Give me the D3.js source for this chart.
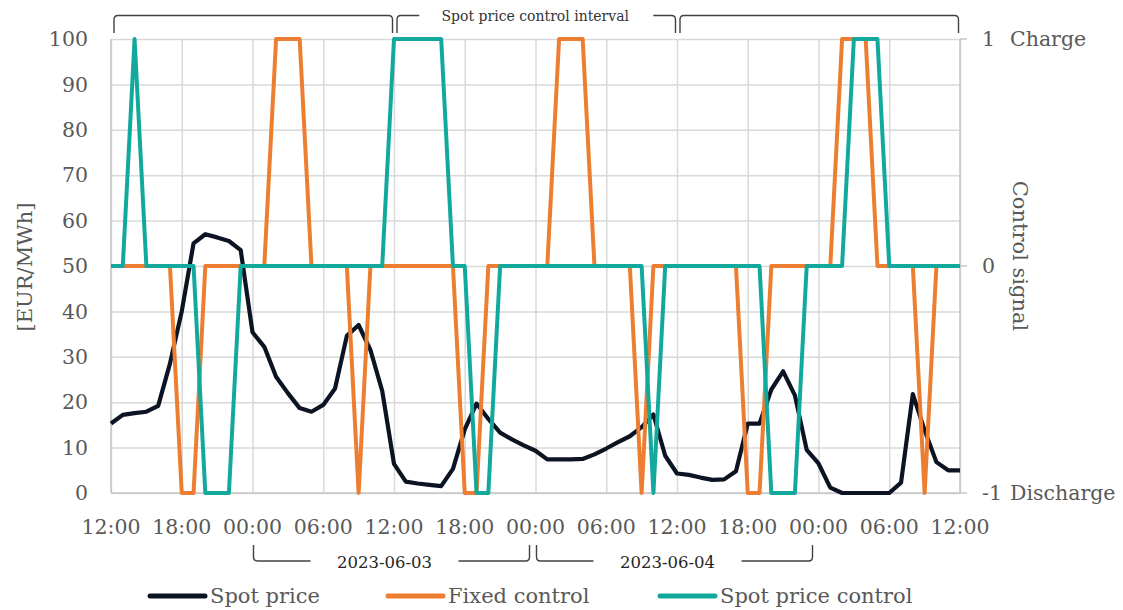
<!DOCTYPE html>
<html>
<head>
<meta charset="utf-8">
<title>spot price control</title>
<style>
  body { margin: 0; background: #fff; }
  text { font-family: "DejaVu Serif", "Liberation Serif", serif; }
</style>
</head>
<body>
<svg id="chart"></svg>
<script src="https://cdn.jsdelivr.net/npm/d3@7/dist/d3.min.js"></script>
<script>
// hourly values from 2023-06-02 12:00 to 2023-06-05 12:00
var startTime = new Date(2023, 5, 2, 12, 0);

var spotPrice = [
  15.3, 17.2, 17.6, 17.9, 19.2, 28.5, 40, 55, 57, 56.3, 55.5, 53.5,
  35.4, 32.2, 25.6, 22, 18.7, 17.9, 19.4, 23, 34.6, 37, 31.5, 22.5,
  6.4, 2.5, 2.1, 1.8, 1.5, 5.3, 14, 19.7, 16.3, 13.3, 11.8, 10.5,
  9.3, 7.4, 7.4, 7.4, 7.5, 8.5, 9.8, 11.2, 12.5, 14.5, 17.3, 8.2,
  4.3, 4, 3.4, 2.9, 3, 4.8, 15.3, 15.3, 22.8, 26.8, 21.5, 9.5,
  6.5, 1.2, 0, 0, 0, 0, 0, 2.3, 21.8, 13.8, 6.8, 5, 5
];

var fixedControl = [
  0, 0, 0, 0, 0, 0, -1, -1, 0, 0, 0, 0,
  0, 0, 1, 1, 1, 0, 0, 0, 0, -1, 0, 0,
  0, 0, 0, 0, 0, 0, -1, -1, 0, 0, 0, 0,
  0, 0, 1, 1, 1, 0, 0, 0, 0, -1, 0, 0,
  0, 0, 0, 0, 0, 0, -1, -1, 0, 0, 0, 0,
  0, 0, 1, 1, 1, 0, 0, 0, 0, -1, 0, 0, 0
];

var spotControl = [
  0, 0, 1, 0, 0, 0, 0, 0, -1, -1, -1, 0,
  0, 0, 0, 0, 0, 0, 0, 0, 0, 0, 0, 0,
  1, 1, 1, 1, 1, 0, 0, -1, -1, 0, 0, 0,
  0, 0, 0, 0, 0, 0, 0, 0, 0, 0, -1, 0,
  0, 0, 0, 0, 0, 0, 0, 0, -1, -1, -1, 0,
  0, 0, 0, 1, 1, 1, 0, 0, 0, 0, 0, 0, 0
];

var seriesNames = ["Spot price", "Fixed control", "Spot price control"];
var seriesColors = ["#0c1424", "#ed7d31", "#13a89c"];

var priceTicks = [0, 10, 20, 30, 40, 50, 60, 70, 80, 90, 100];
var controlTicks = [1, 0, -1];
var controlTickNotes = ["Charge", "", "Discharge"];

// hours from start
var intervalEdges = [0, 24, 48, 72];
var intervalLabel = "Spot price control interval";
var dayEdges = [12, 36, 60];
var dayLabels = ["2023-06-03", "2023-06-04"];

var width = 1123, height = 610;
var plotL = 111, plotR = 960, plotT = 39, plotB = 493;

var svg = d3.select("#chart").attr("width", width).attr("height", height);

function hourTime(h) { return d3.timeHour.offset(startTime, h); }

var x = d3.scaleTime()
  .domain([startTime, hourTime(72)])
  .range([plotL, plotR]);
var y = d3.scaleLinear().domain([0, 100]).range([plotB, plotT]);
var y2 = d3.scaleLinear().domain([-1, 1]).range([plotB, plotT]);

// grid
svg.append("g")
  .attr("transform", "translate(" + plotL + ",0)")
  .call(d3.axisLeft(y).tickValues(priceTicks).tickSize(-(plotR - plotL)).tickFormat(""))
  .call(function(g) { g.select(".domain").remove(); })
  .selectAll("line").attr("stroke", "#d9d9d9").attr("stroke-width", 1.5);

svg.append("g")
  .attr("transform", "translate(0," + plotB + ")")
  .call(d3.axisBottom(x).ticks(d3.timeHour.every(6)).tickSize(-(plotB - plotT)).tickFormat(""))
  .call(function(g) { g.select(".domain").remove(); })
  .selectAll("line").attr("stroke", "#d9d9d9").attr("stroke-width", 1.5);

// axis lines
svg.append("line").attr("x1", plotL).attr("x2", plotL).attr("y1", plotT).attr("y2", plotB)
  .attr("stroke", "#c6c6c6").attr("stroke-width", 1.5);
svg.append("line").attr("x1", plotR).attr("x2", plotR).attr("y1", plotT).attr("y2", plotB)
  .attr("stroke", "#c6c6c6").attr("stroke-width", 1.5);
svg.append("line").attr("x1", plotL).attr("x2", plotR).attr("y1", plotB).attr("y2", plotB)
  .attr("stroke", "#c6c6c6").attr("stroke-width", 1.5);

// left tick labels
svg.append("g").selectAll("text")
  .data(priceTicks).enter().append("text")
  .attr("x", 88).attr("y", function(d) { return y(d); })
  .attr("dy", "0.35em").attr("text-anchor", "end")
  .attr("font-size", 20.5).attr("fill", "#595959")
  .text(function(d) { return d; });

// bottom tick labels
svg.append("g").selectAll("text")
  .data(x.ticks(d3.timeHour.every(6))).enter().append("text")
  .attr("x", function(d) { return x(d); }).attr("y", 527)
  .attr("dy", "0.35em").attr("text-anchor", "middle")
  .attr("font-size", 20.5).attr("fill", "#595959")
  .text(d3.timeFormat("%H:%M"));

// right axis ticks + labels
var rt = svg.append("g").selectAll("g")
  .data(controlTicks).enter().append("g")
  .attr("transform", function(d) { return "translate(0," + y2(d) + ")"; });
rt.append("line").attr("x1", plotR).attr("x2", plotR + 7)
  .attr("stroke", "#c6c6c6").attr("stroke-width", 1.5);
rt.append("text").attr("x", 982).attr("dy", "0.35em")
  .attr("font-size", 20.5).attr("fill", "#595959")
  .text(function(d) { return d; });
rt.append("text").attr("x", 1010).attr("dy", "0.35em")
  .attr("font-size", 20.5).attr("fill", "#595959")
  .text(function(d, i) { return controlTickNotes[i]; });

// axis titles
svg.append("text")
  .attr("transform", "translate(25,267) rotate(-90)")
  .attr("text-anchor", "middle").attr("dy", "0.35em")
  .attr("font-size", 21).attr("fill", "#595959")
  .text("[EUR/MWh]");
svg.append("text")
  .attr("transform", "translate(1020,256) rotate(90)")
  .attr("text-anchor", "middle").attr("dy", "0.35em")
  .attr("font-size", 21).attr("fill", "#595959")
  .text("Control signal");

// series
var priceLine = d3.line()
  .x(function(d, i) { return x(hourTime(i)); })
  .y(function(d) { return y(d); });
var controlLine = d3.line()
  .x(function(d, i) { return x(hourTime(i)); })
  .y(function(d) { return y2(d); });

svg.append("path").datum(spotPrice)
  .attr("d", priceLine).attr("fill", "none")
  .attr("stroke", seriesColors[0]).attr("stroke-width", 4.2)
  .attr("stroke-linejoin", "round");
svg.append("path").datum(fixedControl)
  .attr("d", controlLine).attr("fill", "none")
  .attr("stroke", seriesColors[1]).attr("stroke-width", 4)
  .attr("stroke-linejoin", "round");
svg.append("path").datum(spotControl)
  .attr("d", controlLine).attr("fill", "none")
  .attr("stroke", seriesColors[2]).attr("stroke-width", 4)
  .attr("stroke-linejoin", "round");

// brackets
function bracket(x0, x1, yLine, yEnd, gap, shift) {
  var r = 4, s = yEnd > yLine ? 1 : -1;
  var p = d3.path();
  p.moveTo(x0, yEnd);
  p.lineTo(x0, yLine + s * r);
  p.quadraticCurveTo(x0, yLine, x0 + r, yLine);
  if (gap) {
    var mid = (x0 + x1) / 2 + (shift || 0);
    p.lineTo(mid - gap / 2, yLine);
    p.moveTo(mid + gap / 2, yLine);
  }
  p.lineTo(x1 - r, yLine);
  p.quadraticCurveTo(x1, yLine, x1, yLine + s * r);
  p.lineTo(x1, yEnd);
  return p.toString();
}

for (var k = 0; k < intervalEdges.length - 1; k++) {
  var bx0 = x(hourTime(intervalEdges[k])) + 3;
  var bx1 = x(hourTime(intervalEdges[k + 1])) - 1.5;
  svg.append("path")
    .attr("d", bracket(bx0, bx1, 15.5, 33, k === 1 ? 234 : 0, 0))
    .attr("fill", "none").attr("stroke", "#404040").attr("stroke-width", 1.4);
  if (k === 1) {
    svg.append("text")
      .attr("x", (bx0 + bx1) / 2 - 1).attr("y", 16).attr("dy", "0.35em")
      .attr("text-anchor", "middle").attr("font-size", 14).attr("fill", "#333")
      .text(intervalLabel);
  }
}

for (var d = 0; d < dayLabels.length; d++) {
  var dx0 = x(hourTime(dayEdges[d])) + 1;
  var dx1 = x(hourTime(dayEdges[d + 1])) - 6;
  svg.append("path")
    .attr("d", bracket(dx0, dx1, 561, 545, 148, -7))
    .attr("fill", "none").attr("stroke", "#404040").attr("stroke-width", 1.4);
  svg.append("text")
    .attr("x", (dx0 + dx1) / 2 - 7).attr("y", 562).attr("dy", "0.35em")
    .attr("text-anchor", "middle").attr("font-size", 16.5).attr("fill", "#262626")
    .text(dayLabels[d]);
}

// legend
var legendX = [150, 388, 660];
var lg = svg.append("g").selectAll("g")
  .data(seriesNames).enter().append("g")
  .attr("transform", function(d, i) { return "translate(" + legendX[i] + ",596)"; });
lg.append("line").attr("x1", 0).attr("x2", 55)
  .attr("stroke", function(d, i) { return seriesColors[i]; })
  .attr("stroke-width", 5).attr("stroke-linecap", "round");
lg.append("text").attr("x", 60).attr("dy", "0.35em")
  .attr("font-size", 21).attr("fill", "#595959")
  .text(function(d) { return d; });
</script>
</body>
</html>
